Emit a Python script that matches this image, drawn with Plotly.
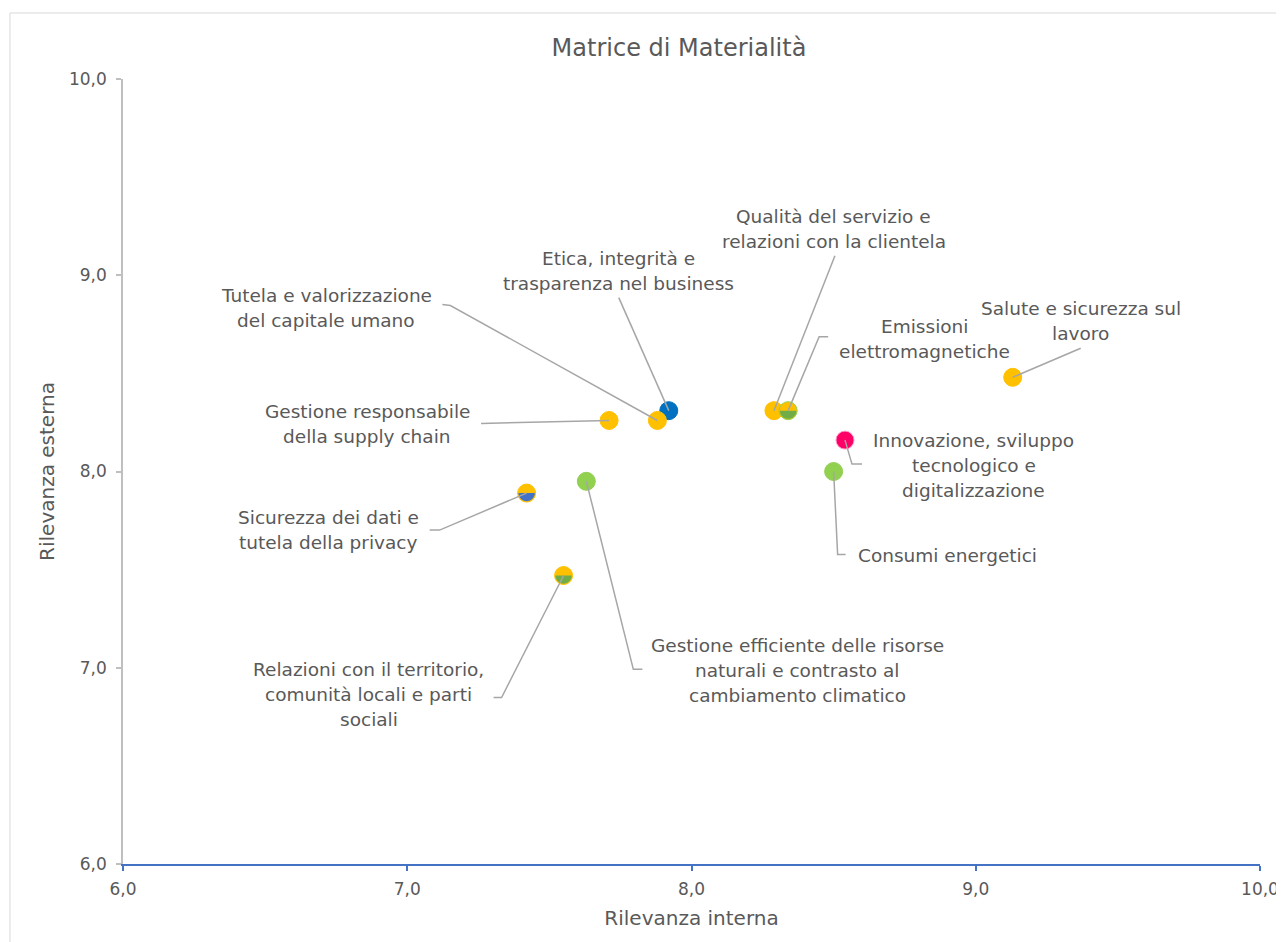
import plotly.graph_objects as go

# ---------------- data ----------------
temi = [
    "Etica, integrità e trasparenza nel business",
    "Tutela e valorizzazione del capitale umano",
    "Gestione responsabile della supply chain",
    "Qualità del servizio e relazioni con la clientela",
    "Emissioni elettromagnetiche",
    "Salute e sicurezza sul lavoro",
    "Innovazione, sviluppo tecnologico e digitalizzazione",
    "Consumi energetici",
    "Gestione efficiente delle risorse naturali e contrasto al cambiamento climatico",
    "Sicurezza dei dati e tutela della privacy",
    "Relazioni con il territorio, comunità locali e parti sociali",
]
rilevanza_interna = [7.92, 7.88, 7.71, 8.29, 8.34, 9.13, 8.54, 8.50, 7.63, 7.42, 7.55]
rilevanza_esterna = [8.31, 8.26, 8.26, 8.31, 8.31, 8.48, 8.16, 8.00, 7.95, 7.89, 7.47]

label_lines = [
    ["Etica, integrità e", "trasparenza nel business"],
    ["Tutela e valorizzazione", "del capitale umano"],
    ["Gestione responsabile", "della supply chain"],
    ["Qualità del servizio e", "relazioni con la clientela"],
    ["Emissioni", "elettromagnetiche"],
    ["Salute e sicurezza sul", "lavoro"],
    ["Innovazione, sviluppo", "tecnologico e", "digitalizzazione"],
    ["Consumi energetici"],
    ["Gestione efficiente delle risorse", "naturali e contrasto al", "cambiamento climatico"],
    ["Sicurezza dei dati e", "tutela della privacy"],
    ["Relazioni con il territorio,", "comunità locali e parti", "sociali"],
]

x_ticks = [6.0, 7.0, 8.0, 9.0, 10.0]
y_ticks = [6.0, 7.0, 8.0, 9.0, 10.0]

# ---------------- styles ----------------
YEL, BLU, GRN, PNK, BLU2, GRN2 = "#FFC000", "#0070C0", "#92D050", "#FF0066", "#4472C4", "#70AD47"
fill_col = [BLU, YEL, YEL, YEL, YEL, YEL, PNK, GRN, GRN, YEL, YEL]
lower_col = [None, None, None, None, GRN2, None, None, None, None, BLU2, GRN2]
line_col = [BLU, YEL, YEL, YEL, GRN, YEL, "#FF99CC", GRN, GRN, YEL, YEL]

# label offsets (screen px, y down) and leader-line paths relative to each point
label_off = [(-50, -140), (-331, -112), (-242, 4), (60, -182), (136, -72), (68, -56),
             (129, 25), (114, 84), (211, 189), (-198, 37), (-195, 119)]
leader = [
    [(-50, -113)],
    [(-207, -115), (-215, -116)],
    [(-128, 3)],
    [(61, -155)],
    [(31, -74), (40, -74)],
    [(68, -29)],
    [(7, 24), (17, 24)],
    [(4, 83), (12, 83)],
    [(47, 188), (56, 188)],
    [(-87, 37), (-97, 37)],
    [(-62, 122), (-70, 122)],
]

FONT = "DejaVu Sans"
TXT = "#595959"
LINE_H = 25
LBL_SIZE = 18.5
R = 8.2  # radius (px) of the lower half-fill for split markers
K = 0.5523 * R

fig = go.Figure()
fig.add_trace(go.Scatter(
    x=rilevanza_interna, y=rilevanza_esterna, mode="markers", text=temi,
    hoverinfo="text",
    marker=dict(size=18, color=fill_col, line=dict(color=line_col, width=1)),
    showlegend=False,
))

shapes = []
annotations = []
# lower-half fills of the split markers
for i in range(len(temi)):
    if lower_col[i]:
        half = (f"M {-R} 0 C {-R} {-K} {-K} {-R} 0 {-R} "
                f"C {K} {-R} {R} {-K} {R} 0 Z")
        shapes.append(dict(type="path", xref="x", yref="y", xsizemode="pixel", ysizemode="pixel",
                           xanchor=rilevanza_interna[i], yanchor=rilevanza_esterna[i], path=half,
                           fillcolor=lower_col[i], line=dict(width=0), layer="above"))
# leader lines and labels
for i in range(len(temi)):
    pts = [(0, 0)] + leader[i]
    path = "M " + " L ".join(f"{dx} {-dy}" for dx, dy in pts)
    shapes.append(dict(type="path", xref="x", yref="y", xsizemode="pixel", ysizemode="pixel",
                       xanchor=rilevanza_interna[i], yanchor=rilevanza_esterna[i], path=path,
                       line=dict(color="#A6A6A6", width=1.5), layer="above"))
    n = len(label_lines[i])
    ox, oy = label_off[i]
    for j, t in enumerate(label_lines[i]):
        dy = oy + (j - (n - 1) / 2) * LINE_H
        annotations.append(dict(x=rilevanza_interna[i], y=rilevanza_esterna[i], xref="x", yref="y",
                                text=t, showarrow=False, xanchor="center", yanchor="middle",
                                xshift=ox, yshift=-dy, font=dict(family=FONT, size=LBL_SIZE, color=TXT)))

# chart border
shapes.append(dict(type="rect", xref="paper", yref="paper", x0=-0.0994, x1=1.2, y0=-0.3, y1=1.0841,
                   line=dict(color="#D9D9D9", width=1), layer="below"))

fig.update_layout(
    width=1276, height=934,
    margin=dict(l=115, r=24, t=71, b=78, autoexpand=False),
    paper_bgcolor="white", plot_bgcolor="white",
    separators=",.",
    title=dict(text="Matrice di Materialità", x=0.489, xref="paper", xanchor="center",
               y=1 - 40 / 934, yanchor="middle",
               font=dict(family=FONT, size=24, color=TXT)),
    xaxis=dict(range=[6, 10], tickvals=x_ticks, tickformat=".1f", showgrid=False, zeroline=False,
               automargin=False,
               showline=True, linecolor="#4472C4", linewidth=1.5,
               ticks="outside", ticklen=5, tickcolor="#4472C4", tickwidth=1.5,
               ticklabelstandoff=4,
               tickfont=dict(family=FONT, size=17, color=TXT),
               title=dict(text="Rilevanza interna", font=dict(family=FONT, size=20, color=TXT), standoff=13)),
    yaxis=dict(range=[6, 10], tickvals=y_ticks, tickformat=".1f", showgrid=False, zeroline=False,
               automargin=False,
               showline=True, linecolor="#BFBFBF", linewidth=1.5,
               ticks="outside", ticklen=5, tickcolor="#BFBFBF", tickwidth=1.5,
               ticklabelstandoff=6,
               tickfont=dict(family=FONT, size=17, color=TXT),
               title=dict(text="Rilevanza esterna", font=dict(family=FONT, size=20, color=TXT), standoff=9)),
    shapes=shapes, annotations=annotations,
)

fig.write_html("out.html")
